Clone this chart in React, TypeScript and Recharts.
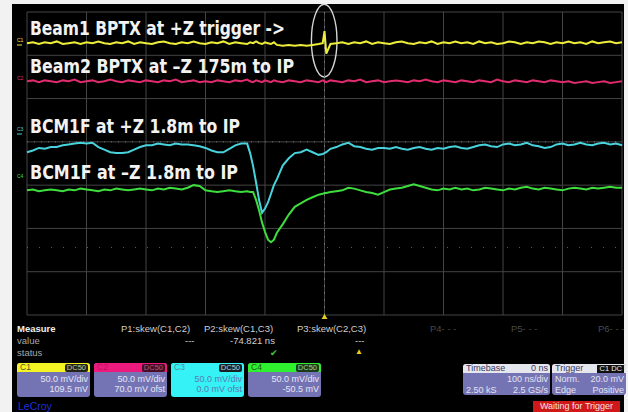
import React from "react";
import {
  LineChart,
  Line,
  XAxis,
  YAxis,
  CartesianGrid,
  ReferenceLine,
  ReferenceArea,
  ReferenceDot,
} from "recharts";

// time in ns, trigger at 0, 100 ns/div
const TIME_NS = [
  -500, -490, -480, -470, -460, -450, -440, -430, -420, -410,
  -400, -390, -380, -370, -360, -350, -340, -330, -320, -310,
  -300, -290, -280, -270, -260, -250, -240, -230, -220, -210,
  -200, -190, -180, -170, -160, -150, -140, -130, -125, -120,
  -115, -110, -105, -100, -95, -90, -85, -80, -70, -60,
  -50, -40, -30, -20, -10, -3, 0, 3, 10, 20,
  30, 40, 50, 60, 70, 80, 90, 100, 110, 120,
  130, 140, 150, 160, 170, 180, 190, 200, 210, 220,
  230, 240, 250, 260, 270, 280, 290, 300, 310, 320,
  330, 340, 350, 360, 370, 380, 390, 400, 410, 420,
  430, 440, 450, 460, 470, 480, 490, 500,
];

// screen level in mV (50 mV/div)
const C1_MV = [
  139, 140, 138, 140, 139, 141, 138, 139, 140, 138,
  140, 139, 141, 139, 138, 140, 139, 141, 138, 140,
  139, 138, 140, 141, 139, 138, 140, 139, 141, 139,
  138, 140, 139, 141, 138, 140, 139, 138, 140, 139,
  141, 139, 138, 140, 139, 138, 140, 137, 136, 137,
  136, 137, 136, 137, 138, 139, 153, 127, 138, 139,
  140, 138, 140, 139, 141, 138, 140, 139, 138, 140,
  141, 139, 138, 140, 139, 141, 138, 140, 139, 141,
  139, 140, 138, 141, 139, 140, 138, 139, 141, 140,
  138, 140, 139, 141, 140, 138, 140, 139, 141, 139,
  140, 138, 141, 139, 140, 141, 139, 140,
];

const C2_MV = [
  95, 96, 94, 96, 95, 94, 96, 95, 97, 94,
  95, 96, 94, 95, 97, 95, 94, 96, 95, 94,
  96, 95, 94, 96, 95, 97, 94, 95, 96, 94,
  95, 94, 96, 95, 94, 96, 95, 97, 95, 94,
  96, 95, 94, 96, 95, 94, 96, 95, 94, 96,
  95, 94, 96, 95, 94, 96, 95, 94, 96, 95,
  94, 96, 95, 97, 94, 95, 96, 94, 95, 96,
  95, 94, 96, 95, 97, 95, 94, 96, 95, 94,
  96, 95, 94, 96, 95, 94, 97, 95, 94, 96,
  95, 94, 96, 95, 94, 96, 95, 94, 95, 93,
  94, 95, 93, 94, 95, 93, 94, 95,
];

const C3_MV = [
  13, 15, 18, 17, 19, 19, 21, 22, 23, 24,
  23, 24, 19, 16, 13, 12, 12, 13, 16, 19,
  21, 21, 23, 22, 21, 23, 22, 22, 21, 20,
  18, 15, 13, 13, 17, 21, 23, 23, 12, -3,
  -22, -42, -57, -52, -45, -35, -25, -18, -2, 6,
  12, 13, 16, 13, 10, 11, 12, 13, 17, 19,
  22, 24, 20, 19, 17, 16, 18, 18, 17, 19,
  17, 16, 18, 19, 17, 16, 18, 17, 19, 20,
  18, 17, 19, 21, 22, 20, 19, 22, 23, 21,
  22, 24, 21, 20, 18, 19, 22, 23, 21, 22,
  24, 22, 21, 23, 24, 22, 23, 21,
];

const C4_MV = [
  -31, -30, -32, -31, -30, -31, -32, -30, -31, -29,
  -30, -31, -32, -30, -31, -29, -30, -31, -30, -29,
  -30, -31, -29, -30, -28, -29, -30, -28, -25, -26,
  -31, -32, -33, -32, -31, -32, -33, -32, -33, -33,
  -42, -54, -68, -79, -88, -91, -88, -80, -70, -59,
  -50, -46, -42, -39, -36, -35, -34, -34, -33, -32,
  -31, -28, -29, -31, -33, -34, -36, -33, -30, -29,
  -28, -26, -24, -26, -28, -30, -31, -29, -30, -28,
  -30, -29, -31, -30, -28, -29, -30, -31, -29, -30,
  -28, -27, -29, -30, -28, -29, -30, -31, -29, -28,
  -29, -30, -28, -29, -28, -27, -28, -28,
];

const X_TICKS = [-500, -400, -300, -200, -100, 0, 100, 200, 300, 400, 500];
const Y_TICKS = [-175, -125, -75, -25, 25, 75, 125, 175];

const data = TIME_NS.map((t, i) => ({
  t,
  c1: C1_MV[i],
  c2: C2_MV[i],
  c3: C3_MV[i],
  c4: C4_MV[i],
}));

const PANEL_FONT = "'Liberation Sans', Arial, sans-serif";
const BODY_BG = "#7474b4";

function Txt({ left, top, children, color = "#cfcfcf", size = 9.5, bold = false, style = {} }: any) {
  return (
    <div
      style={{
        position: "absolute",
        left,
        top,
        fontSize: size,
        lineHeight: "10px",
        color,
        fontWeight: bold ? 700 : 400,
        whiteSpace: "nowrap",
        ...style,
      }}
    >
      {children}
    </div>
  );
}

function ChannelBox({ left, color, name, nameColor, badgeBg, badgeColor, line1, line2, full, textColor }: any) {
  return (
    <div
      style={{
        position: "absolute",
        left,
        top: 363,
        width: 73,
        height: 34,
        borderRadius: 3,
        overflow: "hidden",
        background: full ? color : BODY_BG,
      }}
    >
      <div
        style={{
          height: 9,
          background: color,
          display: "flex",
          justifyContent: "space-between",
          alignItems: "center",
        }}
      >
        <span style={{ fontSize: 8.5, lineHeight: "9px", color: nameColor, paddingLeft: 3 }}>{name}</span>
        <span
          style={{
            fontSize: 7.5,
            lineHeight: "8px",
            background: badgeBg,
            color: badgeColor,
            padding: "0 2px",
            borderRadius: 2,
            marginRight: 2,
          }}
        >
          DC50
        </span>
      </div>
      <div
        style={{
          textAlign: "right",
          paddingRight: 2,
          paddingTop: 2,
          fontSize: 9,
          lineHeight: "10px",
          color: textColor,
        }}
      >
        {line1}
        <br />
        {line2}
      </div>
    </div>
  );
}

function InfoBox({ left, width, head, headRight, badge, rows }: any) {
  return (
    <div
      style={{
        position: "absolute",
        left,
        top: 364,
        width,
        height: 31,
        borderRadius: 3,
        overflow: "hidden",
        background: BODY_BG,
        color: "#e2e2f2",
        fontSize: 9,
        lineHeight: "10px",
      }}
    >
      <div
        style={{
          height: 9,
          background: "#e6e6ee",
          color: "#3a3a60",
          display: "flex",
          justifyContent: "space-between",
          alignItems: "center",
          padding: "0 2px 0 3px",
          lineHeight: "9px",
        }}
      >
        <span>{head}</span>
        {badge ? (
          <span style={{ background: "#111", color: "#eee", padding: "0 2px", fontSize: 7.5, lineHeight: "8px" }}>
            {badge}
          </span>
        ) : (
          <span>{headRight}</span>
        )}
      </div>
      {rows.map((r: string[], i: number) => (
        <div key={i} style={{ display: "flex", justifyContent: "space-between", padding: "1px 2px 0 3px" }}>
          <span>{r[0]}</span>
          <span>{r[1]}</span>
        </div>
      ))}
    </div>
  );
}

const Ellipse = (p: any) => (
  <ellipse
    cx={p.x + p.width / 2}
    cy={p.y + p.height / 2}
    rx={p.width / 2}
    ry={p.height / 2}
    fill="none"
    stroke="#d6d6d6"
    strokeWidth={1.4}
  />
);

const TrigMark = (p: any) => (
  <polygon
    points={`${p.cx - 3},${p.cy + 4} ${p.cx + 3},${p.cy + 4} ${p.cx},${p.cy - 1}`}
    fill="#e8d020"
  />
);

export default function App() {
  const labelStyle: React.CSSProperties = {
    fontFamily: "'DejaVu Sans Condensed', 'DejaVu Sans', sans-serif",
    fontWeight: 700,
    fontSize: 19.5,
    fill: "#f2f2f2",
  };
  const markStyle: React.CSSProperties = { fontFamily: PANEL_FONT, fontSize: 5 };

  return (
    <div
      style={{
        position: "absolute",
        left: 0,
        top: 0,
        width: 628,
        height: 412,
        background: "#f2f2f2",
        overflow: "hidden",
        fontFamily: PANEL_FONT,
      }}
    >
      <div style={{ position: "absolute", left: 12, top: 4, width: 612, height: 408, background: "#000" }} />

      <div style={{ position: "absolute", left: 0, top: 0 }}>
        <LineChart width={628} height={412} data={data} margin={{ top: 12, right: 6, bottom: 97, left: 27 }}>
          <CartesianGrid stroke="#444444" strokeWidth={1} />
          <XAxis dataKey="t" type="number" domain={[-500, 500]} ticks={X_TICKS} hide />
          <YAxis type="number" domain={[-175, 175]} ticks={Y_TICKS} hide />
          <ReferenceLine x={0} stroke="#707070" strokeDasharray="2 5" />
          <ReferenceLine y={25} stroke="#747474" strokeDasharray="1 6" />
          <ReferenceLine y={-97} stroke="#5a5a5a" strokeDasharray="1 11" />
          <Line type="linear" dataKey="c1" stroke="#eeee3a" strokeWidth={2} dot={false} isAnimationActive={false} />
          <Line type="linear" dataKey="c2" stroke="#e02c6c" strokeWidth={2} dot={false} isAnimationActive={false} />
          <Line type="linear" dataKey="c3" stroke="#48d2dc" strokeWidth={2} dot={false} isAnimationActive={false} />
          <Line type="linear" dataKey="c4" stroke="#3ede3e" strokeWidth={2} dot={false} isAnimationActive={false} />
          <ReferenceArea x1={-22} x2={21} y1={100} y2={184} ifOverflow="visible" shape={Ellipse} />
          <ReferenceDot x={0} y={-175} r={3} ifOverflow="visible" shape={TrigMark} />
        </LineChart>
      </div>

      <svg width={628} height={412} style={{ position: "absolute", left: 0, top: 0, pointerEvents: "none" }}>
        <text x={30} y={35} textLength={255} lengthAdjust="spacingAndGlyphs" style={labelStyle}>
          Beam1 BPTX at +Z trigger -&gt;
        </text>
        <text x={30} y={73} textLength={264} lengthAdjust="spacingAndGlyphs" style={labelStyle}>
          Beam2 BPTX at –Z 175m to IP
        </text>
        <text x={30} y={133} textLength={210} lengthAdjust="spacingAndGlyphs" style={labelStyle}>
          BCM1F at +Z 1.8m to IP
        </text>
        <text x={30} y={179} textLength={208} lengthAdjust="spacingAndGlyphs" style={labelStyle}>
          BCM1F at –Z 1.8m to IP
        </text>
        <g style={markStyle}>
          <text x={17} y={42} fill="#e8e840">C1</text>
          <line x1={17} y1={45} x2={22} y2={45} stroke="#e8e840" />
          <text x={17} y={80} fill="#e02c6c">C2</text>
          <text x={17} y={131} fill="#48d2dc">C3</text>
          <line x1={17} y1={134} x2={22} y2={134} stroke="#48d2dc" />
          <text x={17} y={178} fill="#3ede3e">C4</text>
        </g>
      </svg>

      <Txt left={17} top={324} color="#f0f0f0" bold>Measure</Txt>
      <Txt left={17} top={336} color="#a8a8a8">value</Txt>
      <Txt left={17} top={348} color="#a8a8a8">status</Txt>
      <Txt left={121} top={324}>P1:skew(C1,C2)</Txt>
      <Txt left={185} top={336}>---</Txt>
      <Txt left={204} top={324}>P2:skew(C1,C3)</Txt>
      <Txt left={230} top={336}>-74.821 ns</Txt>
      <Txt left={270} top={348} color="#3cd03c" size={9}>✔</Txt>
      <Txt left={297} top={324}>P3:skew(C2,C3)</Txt>
      <Txt left={355} top={336}>---</Txt>
      <Txt left={355} top={347} color="#e8d020" size={8}>▲</Txt>
      <Txt left={430} top={324} color="#4a4a4a">P4- - -</Txt>
      <Txt left={511} top={324} color="#4a4a4a">P5- - -</Txt>
      <Txt left={598} top={324} color="#4a4a4a">P6- - -</Txt>

      <ChannelBox left={17} color="#f4f424" name="C1" nameColor="#55552a" badgeBg="#242414" badgeColor="#c8c8a0" line1="50.0 mV/div" line2="109.5 mV" textColor="#e6e6f4" />
      <ChannelBox left={94} color="#ec1a7c" name="C2" nameColor="#c01060" badgeBg="#4a0c28" badgeColor="#a06080" line1="50.0 mV/div" line2="70.0 mV ofst" textColor="#e6e6f4" />
      <ChannelBox left={171} color="#34f2f6" name="C3" nameColor="#5a8aa0" badgeBg="#1a2228" badgeColor="#b0d0d8" line1="50.0 mV/div" line2="0.0 mV ofst" full textColor="#5c7cb0" />
      <ChannelBox left={248} color="#2ef02e" name="C4" nameColor="#1a5a1a" badgeBg="#1a3a1a" badgeColor="#a0d0a0" line1="50.0 mV/div" line2="-50.5 mV" textColor="#e6e6f4" />

      <InfoBox left={463} width={87} head="Timebase" headRight="0 ns" rows={[["", "100 ns/div"], ["2.50 kS", "2.5 GS/s"]]} />
      <InfoBox left={552} width={74} head="Trigger" badge="C1 DC" rows={[["Norm.", "20.0 mV"], ["Edge", "Positive"]]} />

      <div
        style={{
          position: "absolute",
          left: 533,
          top: 401,
          width: 87,
          height: 11,
          background: "#d01818",
          color: "#f4e4e4",
          fontSize: 9,
          lineHeight: "11px",
          textAlign: "center",
        }}
      >
        Waiting for Trigger
      </div>
      <Txt left={18} top={401} color="#2030d8" size={10.5}>LeCroy</Txt>
    </div>
  );
}
